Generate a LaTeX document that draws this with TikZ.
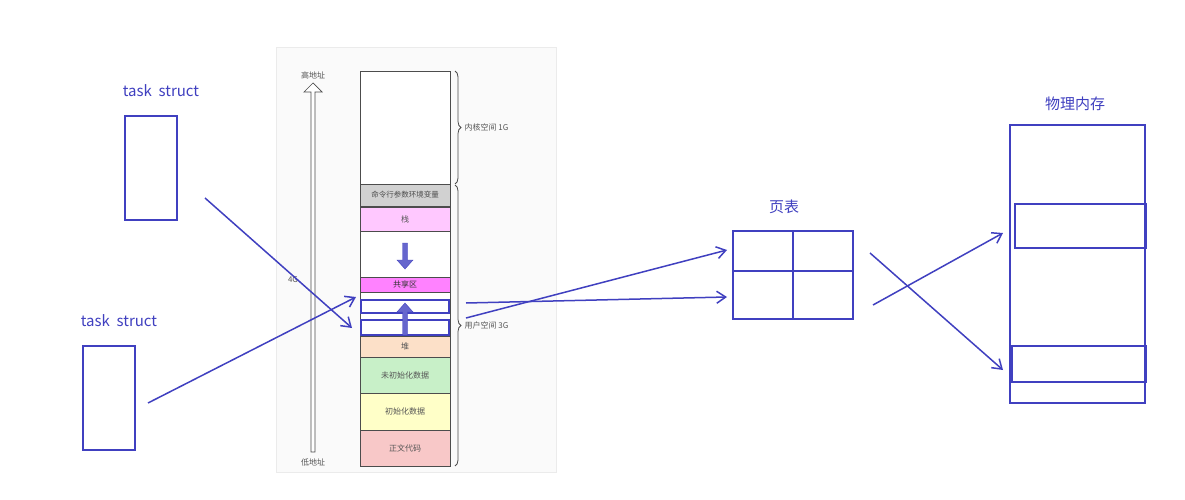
\documentclass[tikz,border=0pt]{standalone}
\usepackage{fontspec}
\setmainfont{Noto Sans CJK SC}
\usetikzlibrary{arrows.meta,decorations.pathreplacing}
\definecolor{pen}{HTML}{4040C0}
\definecolor{txtg}{HTML}{555555}
\begin{document}
\begin{tikzpicture}[x=1pt,y=-1pt,
  seg/.style={draw=black!70,line width=0.8pt},
  bluebox/.style={draw=pen,line width=1.8pt},
  stroke/.style={draw=pen,line width=1.5pt},
  hand/.style={stroke,-{Straight Barb[length=9pt,width=12pt]}},
  small/.style={font=\fontsize{8}{9}\selectfont,text=txtg},
  bluelabel/.style={font=\fontsize{15}{17}\selectfont,text=pen}]
\useasboundingbox (0,0) rectangle (1185,500);
\fill[white] (0,0) rectangle (1185,500);
% panel
\draw[black!8,fill=black!2,line width=1pt] (276,48) rectangle (556,472);
% column segments
\draw[seg,fill=white] (360,71) rectangle (450,184);
\draw[seg,fill=black!18] (360,184) rectangle (450,206) node[midway,small,text=black!70,font=\fontsize{7.5}{8}\selectfont] (cmd) {命令行参数环境变量};
\draw[seg,fill={rgb,255:red,255;green,200;blue,255}] (360,207) rectangle (450,231) node[midway,small] (stk) {栈};
\draw[seg,fill=white] (360,231) rectangle (450,277);
\draw[seg,fill={rgb,255:red,255;green,130;blue,255}] (360,277) rectangle (450,292) node[midway,small,text=black!80] (shr) {共享区};
\draw[seg,fill=white] (360,292) rectangle (450,336);
\draw[seg,fill={rgb,255:red,252;green,224;blue,200}] (360,336) rectangle (450,357) node[midway,small] (heap) {堆};
\draw[seg,fill={rgb,255:red,200;green,240;blue,200}] (360,357) rectangle (450,393) node[midway,small] (bss) {未初始化数据};
\draw[seg,fill={rgb,255:red,255;green,255;blue,200}] (360,393) rectangle (450,430) node[midway,small] (dat) {初始化数据};
\draw[seg,fill={rgb,255:red,248;green,200;blue,200}] (360,430) rectangle (450,466) node[midway,small] (txt) {正文代码};
% inner blue rects
\draw[bluebox] (361,300) rectangle (449,313);
\draw[bluebox] (361,320) rectangle (449,335);
% arrows in column
\fill[pen!80,draw=pen] (402.5,243)--(407.5,243)--(407.5,260)--(413,260)--(405,269)--(397,260)--(402.5,260)--cycle;
\fill[pen!80,draw=pen] (402.5,335)--(407.5,335)--(407.5,312)--(413,312)--(405,303)--(397,312)--(402.5,312)--cycle;
% braces
\draw[black!70,line width=0.8pt,decorate,decoration={brace,amplitude=6pt}] (455,71) -- (455,184);
\draw[black!70,line width=0.8pt,decorate,decoration={brace,amplitude=6pt}] (455,185) -- (455,466);
\node[small,anchor=west] (kern) at (461,127) {内核空间 1G};
\node[small,anchor=west] (user) at (461,325) {用户空间 3G};
% hollow address arrow
\draw[black!70,line width=0.7pt,fill=white] (311,452)--(315,452)--(315,92)--(322,92)--(313,83)--(304,92)--(311,92)--cycle;
\node[small] (hi) at (313,75) {高地址};
\node[small] (lo) at (313,462) {低地址};
\node[small] (g4) at (293,280) {4G};
% task structs
\node[bluelabel] (t1) at (161,91) {task\ \ struct};
\draw[bluebox] (125,116) rectangle (177,220);
\node[bluelabel] (t2) at (119,321) {task\ \ struct};
\draw[bluebox] (83,346) rectangle (135,450);
\coordinate (a1s) at (205,198); \coordinate (a1e) at (352,328);
\coordinate (a2s) at (148,403); \coordinate (a2e) at (356,297);
\draw[hand] (a1s) -- (a1e);
\draw[hand] (a2s) -- (a2e);
% to page table
\node[bluelabel] (pt) at (784,207) {页表};
\draw[bluebox] (733,231) rectangle (853,319);
\draw[stroke] (793,231) -- (793,319);
\draw[stroke] (733,271) -- (853,271);
\coordinate (b1s) at (466,303); \coordinate (b1e) at (727,297);
\coordinate (b2s) at (466,318); \coordinate (b2e) at (727,250);
\draw[hand] (b1s) -- (b1e);
\draw[hand] (b2s) -- (b2e);
% physical memory
\node[bluelabel] (pm) at (1075,104) {物理内存};
\draw[bluebox] (1010,125) rectangle (1145,403);
\draw[bluebox] (1015,204) rectangle (1146,248);
\draw[bluebox] (1012,346) rectangle (1146,382);
\coordinate (c1s) at (870,253); \coordinate (c1e) at (1003,370);
\coordinate (c2s) at (873,305); \coordinate (c2e) at (1003,233);
\draw[hand] (c1s) -- (c1e);
\draw[hand] (c2s) -- (c2e);
\end{tikzpicture}
\end{document}
